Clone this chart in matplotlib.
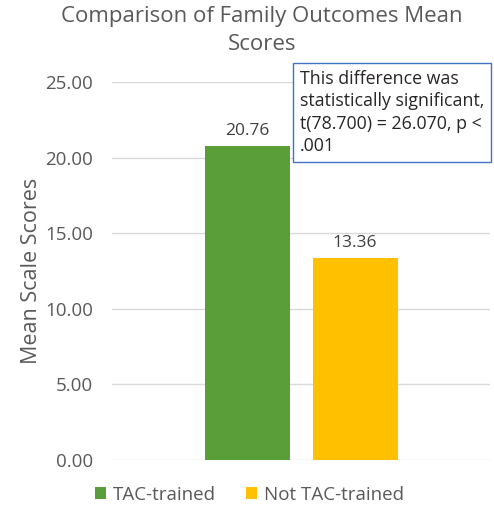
import matplotlib
matplotlib.use("Agg")
import matplotlib.pyplot as plt
from matplotlib.patches import Patch

series = ["TAC-trained", "Not TAC-trained"]
values = [20.76, 13.36]
colors = ["#5a9e3a", "#ffc000"]
yticks = [0, 5, 10, 15, 20, 25]

plt.rcParams['font.family'] = ['Open Sans', 'DejaVu Sans']

fig = plt.figure(figsize=(4.94, 5.08), dpi=100)
ax = fig.add_axes([0.227, 0.0945, 0.765, 0.7441])

offsets = [-0.143, 0.143]
for off, v, c, s in zip(offsets, values, colors, series):
    ax.bar(off, v, width=0.225, color=c, label=s, zorder=3)
    ax.text(off, v + 0.45, f"{v:.2f}", ha='center', va='bottom', fontsize=12.5, color='#404040')

ax.set_xlim(-0.5, 0.5)
ax.set_ylim(0, 25)
ax.set_yticks(yticks)
ax.set_yticklabels([f"{t:.2f}" for t in yticks], fontsize=13.5, color='#595959')
ax.set_xticks([])
ax.tick_params(axis='y', length=0, pad=14)
for sp in ax.spines.values():
    sp.set_visible(False)
ax.grid(axis='y', color='#d9d9d9', linewidth=1, zorder=0)
ax.set_ylabel("Mean Scale Scores", fontsize=15.5, color='#595959', labelpad=2)

fig.text(0.53, 0.988, "Comparison of Family Outcomes Mean\nScores", ha='center', va='top',
         fontsize=16, color='#595959', linespacing=1.45)

fig.text(0.607, 0.862, "This difference was\nstatistically significant,\nt(78.700) = 26.070, p <\n.001",
         ha='left', va='top', fontsize=12.8, color='#262626', linespacing=1.3,
         bbox=dict(boxstyle='square,pad=0.4', facecolor='white', edgecolor='#4472c4', linewidth=1))

handles = [Patch(facecolor=c, label=s) for c, s in zip(colors, series)]
fig.legend(handles=handles, loc='lower center', bbox_to_anchor=(0.505, -0.025), ncol=2, frameon=False,
           fontsize=13.5, handlelength=0.6, handleheight=0.6, handletextpad=0.35, columnspacing=1.6,
           labelcolor='#595959')

fig.savefig("out.png", dpi=100)
